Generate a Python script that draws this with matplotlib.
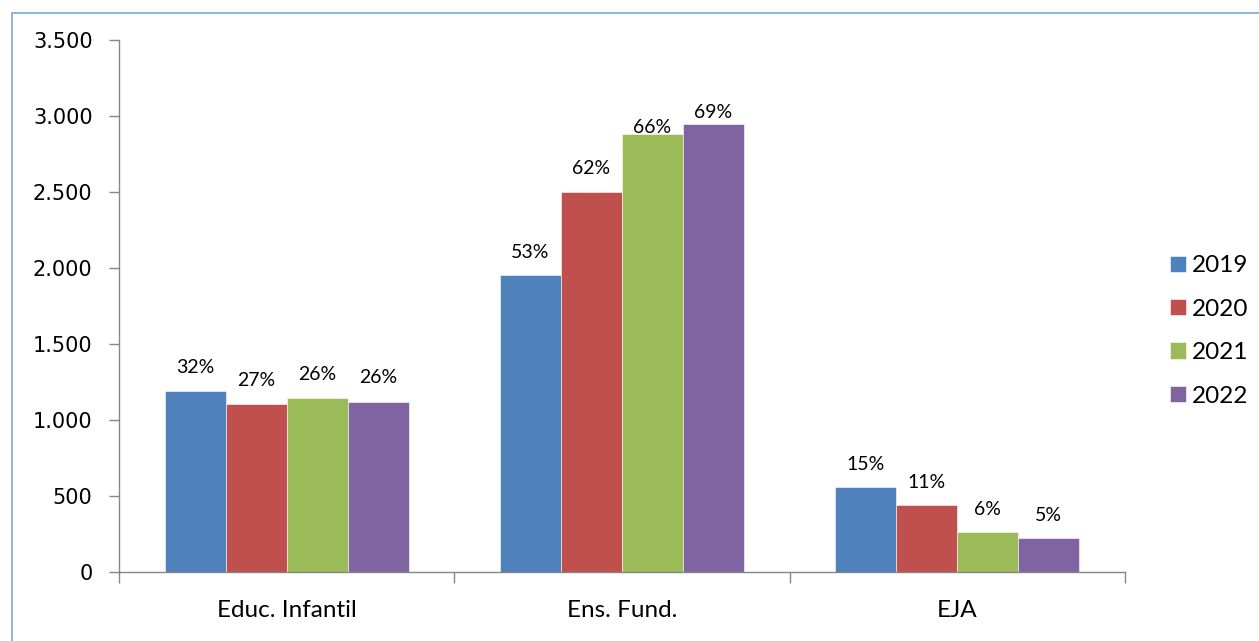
import matplotlib.pyplot as plt
import numpy as np
from matplotlib.patches import Rectangle
from matplotlib.ticker import FuncFormatter

plt.rcParams['font.family'] = ['Lato', 'DejaVu Sans']

# data
categories = ['Educ. Infantil', 'Ens. Fund.', 'EJA']
years = ['2019', '2020', '2021', '2022']
values = {
    '2019': [1190, 1955, 560],
    '2020': [1108, 2503, 442],
    '2021': [1145, 2885, 265],
    '2022': [1121, 2947, 228],
}
percents = {
    '2019': ['32%', '53%', '15%'],
    '2020': ['27%', '62%', '11%'],
    '2021': ['26%', '66%', '6%'],
    '2022': ['26%', '69%', '5%'],
}
colors = ['#4F81BD', '#C0504D', '#9BBB59', '#8064A2']
# label offsets above bar tops (pixels); the tall ones are squeezed by the plot top
label_offsets = {
    '2019': [24, 23, 23],
    '2020': [23, 23, 23],
    '2021': [24, 6, 23],
    '2022': [24, 12, 22],
}

fig = plt.figure(figsize=(12.59, 6.41), dpi=100)
ax = fig.add_axes([0.0945, 0.1069, 0.799, 0.8307])

x = np.arange(len(categories))
bar_w = 0.727 / 4
for i, yr in enumerate(years):
    pos = x - 0.727 / 2 + bar_w * (i + 0.5)
    bars = ax.bar(pos, values[yr], width=bar_w, color=colors[i], label=yr,
                  edgecolor='white', linewidth=0.4)
    for b, txt, off in zip(bars, percents[yr], label_offsets[yr]):
        ax.annotate(txt, (b.get_x() + b.get_width() / 2, b.get_height()),
                    xytext=(0, off), textcoords='offset pixels',
                    ha='center', va='center', fontsize=14, color='#000000')

ax.set_xlim(-0.5, len(categories) - 0.5)
ax.set_ylim(0, 3500)
ax.set_yticks(np.arange(0, 3501, 500))
ax.yaxis.set_major_formatter(FuncFormatter(lambda v, p: f'{int(v):,}'.replace(',', '.')))

# category ticks at boundaries, labels in the middle
ax.set_xticks(np.arange(-0.5, len(categories), 1.0))
ax.set_xticklabels([])
ax.set_xticks(x, minor=True)
ax.set_xticklabels(categories, minor=True, fontsize=17.5)
ax.tick_params(axis='x', which='minor', length=0, pad=20)
ax.tick_params(axis='x', which='major', length=8, color='#868686', width=1)
ax.tick_params(axis='y', length=7, color='#868686', width=1, labelsize=15, pad=12,
               labelfontfamily='DejaVu Sans')

for s in ['top', 'right']:
    ax.spines[s].set_visible(False)
for s in ['left', 'bottom']:
    ax.spines[s].set_color('#868686')
    ax.spines[s].set_linewidth(1)

fig.legend(loc='center left', bbox_to_anchor=(0.9293, 0.4836), frameon=False,
           fontsize=17.5, handlelength=0.66, handleheight=0.66, handletextpad=0.25,
           labelspacing=0.92, borderpad=0, borderaxespad=0)

# outer chart border
fig.patches.append(Rectangle((12 / 1259, -0.05), 1.1, 1 - 13 / 641 + 0.05,
                             transform=fig.transFigure, fill=False,
                             edgecolor='#7DA7D9', linewidth=1.2))

fig.savefig('out.png', dpi=100)
